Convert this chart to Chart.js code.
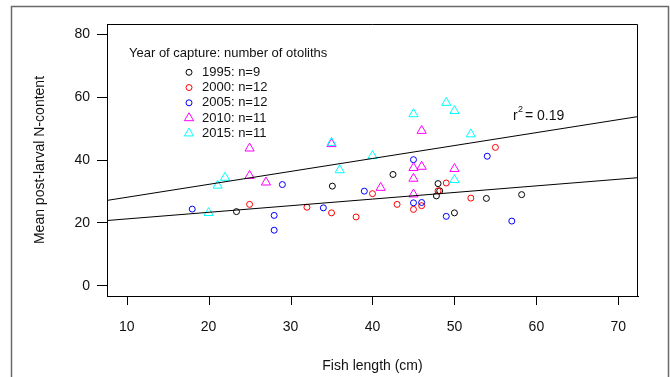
<!DOCTYPE html>
<html>
<head>
<meta charset="utf-8">
<script src="https://cdn.jsdelivr.net/npm/chart.js@4.4.1/dist/chart.umd.min.js"></script>
<style>
  body { margin: 0; background: #fff; }
</style>
</head>
<body>
<canvas id="myChart" width="670" height="377"></canvas>
<script>
const years = ["1995", "2000", "2005", "2010", "2015"];
const colors = ["#000000", "#ff0000", "#0000ff", "#ff00ff", "#00ffff"];
const shapes = ["circle", "circle", "circle", "triangle", "triangle"];

// fish length (cm) and mean post-larval N-content, per year of capture
const len1995 = [23.4, 35.1, 42.5, 48.0, 48.2, 47.8, 50.0, 53.9, 58.2];
const nc1995  = [23.6, 31.7, 35.4, 32.5, 30.2, 28.6, 23.2, 27.8, 29.0];
const len2000 = [25.0, 32.0, 35.0, 38.0, 40.0, 43.0, 45.0, 46.0, 48.0, 49.0, 52.0, 55.0];
const nc2000  = [25.9, 25.0, 23.2, 21.9, 29.3, 25.9, 24.3, 25.5, 30.2, 32.7, 27.9, 44.0];
const len2005 = [18.0, 28.0, 28.0, 29.0, 34.0, 39.0, 45.0, 46.0, 49.0, 45.0, 54.0, 57.0];
const nc2005  = [24.4, 22.4, 17.7, 32.2, 24.8, 30.1, 26.4, 26.5, 22.1, 40.1, 41.2, 20.6];
const len2010 = [25.0, 25.0, 27.0, 35.0, 46.0, 45.0, 46.0, 50.0, 45.0, 41.0, 45.0];
const nc2010  = [43.7, 35.0, 32.9, 45.1, 49.3, 37.5, 37.9, 37.2, 34.1, 31.2, 29.1];
const len2015 = [20.0, 21.1, 22.0, 35.0, 36.0, 40.0, 45.0, 49.0, 50.0, 52.0, 50.0];
const nc2015  = [23.2, 31.9, 34.4, 45.5, 36.8, 41.3, 54.6, 58.2, 55.6, 48.2, 33.7];

const allLen = [len1995, len2000, len2005, len2010, len2015];
const allNc = [nc1995, nc2000, nc2005, nc2010, nc2015];

const xTicks = [10, 20, 30, 40, 50, 60, 70];
const yTicks = [0, 20, 40, 60, 80];
const xMin = 7.6, xMax = 72.4, yMin = -3.2, yMax = 83.2;

// two fitted lines (intercept, slope)
const upperFit = [24.04, 0.411];
const lowerFit = [19.18, 0.210];
const r2 = "0.19";

const family = "'Liberation Sans', Arial, sans-serif";

function fitLine(fit) {
  return [xMin, xMax].map(x => ({ x: x, y: fit[0] + fit[1] * x }));
}

let datasets = years.map((yr, i) => ({
  type: "scatter",
  label: yr + ": n=" + allLen[i].length,
  data: allLen[i].map((x, j) => ({ x: x, y: allNc[i][j] })),
  pointStyle: shapes[i],
  pointRadius: shapes[i] == "triangle" ? 5.3 : 3,
  pointBorderWidth: 1,
  borderColor: colors[i],
  backgroundColor: "rgba(0,0,0,0)",
  order: 5 - i
}));

[upperFit, lowerFit].forEach(f => {
  datasets.push({
    type: "line",
    data: fitLine(f),
    borderColor: "#000",
    borderWidth: 1,
    pointRadius: 0,
    fill: false,
    order: 0
  });
});

const framePlugin = {
  id: "frame",
  beforeDraw(chart) {
    const ctx = chart.ctx;
    ctx.save();
    ctx.fillStyle = "#fff";
    ctx.fillRect(0, 0, chart.width, chart.height);
    ctx.strokeStyle = "#6a6a6a";
    ctx.lineWidth = 1.5;
    ctx.strokeRect(11.5, 6.5, 657, 380);
    ctx.restore();
  },
  afterDraw(chart) {
    const ctx = chart.ctx;
    const a = chart.chartArea;
    const xs = chart.scales.x;
    ctx.save();
    // top and right sides of the box (left and bottom come from the axis borders)
    ctx.strokeStyle = "#000";
    ctx.lineWidth = 1;
    const l = Math.round(a.left), t = Math.round(a.top) + 0.5;
    const r = Math.round(a.right) - 0.5, b = Math.round(a.bottom) + 1;
    ctx.beginPath();
    ctx.moveTo(l, t);
    ctx.lineTo(r, t);
    ctx.lineTo(r, b);
    // x tick marks
    xTicks.forEach(v => {
      const px = Math.round(xs.getPixelForValue(v)) + 0.5;
      ctx.moveTo(px, Math.round(a.bottom));
      ctx.lineTo(px, Math.round(a.bottom) + 9);
    });
    ctx.stroke();

    // legend
    ctx.fillStyle = "#111";
    ctx.textBaseline = "middle";
    ctx.textAlign = "left";
    ctx.font = "13px " + family;
    ctx.fillText("Year of capture: number of otoliths", 129, 53.3);
    chart.data.datasets.forEach((ds, i) => {
      if (ds.type != "scatter") return;
      const y = 72.3 + i * 15.25;
      ctx.strokeStyle = ds.borderColor;
      ctx.fillStyle = "rgba(0,0,0,0)";
      ctx.lineWidth = 1;
      Chart.helpers.drawPoint(ctx, { pointStyle: ds.pointStyle, radius: ds.pointRadius, rotation: 0, borderWidth: 1 }, 189, y);
      ctx.fillStyle = "#111";
      ctx.fillText(ds.label, 202, y);
    });

    // r squared label
    ctx.font = "14px " + family;
    ctx.fillText("r", 513, 116);
    ctx.font = "9px " + family;
    ctx.fillText("2", 518, 110);
    ctx.font = "14px " + family;
    ctx.fillText("= " + r2, 525, 116);
    ctx.restore();
  }
};

new Chart("myChart", {
  data: { datasets: datasets },
  options: {
    responsive: false,
    animation: false,
    layout: { padding: { top: 24, right: 32, left: 0, bottom: 0 } },
    plugins: { legend: { display: false }, tooltip: { enabled: false } },
    scales: {
      x: {
        type: "linear",
        min: xMin,
        max: xMax,
        afterBuildTicks: s => { s.ticks = xTicks.map(v => ({ value: v })); },
        afterFit: s => { s.height = 81; },
        grid: { drawOnChartArea: false, drawTicks: false },
        border: { display: true, color: "#000", width: 1 },
        ticks: { color: "#111", font: { family: family, size: 14 }, padding: 23, maxRotation: 0 },
        title: { display: true, text: "Fish length (cm)", color: "#111",
                 font: { family: family, size: 14 }, padding: { top: 0, bottom: 2 } }
      },
      y: {
        type: "linear",
        min: yMin,
        max: yMax,
        afterBuildTicks: s => { s.ticks = yTicks.map(v => ({ value: v })); },
        afterFit: s => { s.width = 107; },
        grid: { drawOnChartArea: false, drawTicks: true, tickLength: 10, color: "#000", tickColor: "#000" },
        border: { display: true, color: "#000", width: 1 },
        ticks: { color: "#111", font: { family: family, size: 14 }, padding: 7 },
        title: { display: true, text: "Mean post-larval N-content", color: "#111",
                 font: { family: family, size: 14 }, padding: { top: 31.6, bottom: 0 } }
      }
    }
  },
  plugins: [framePlugin]
});
</script>
</body>
</html>
